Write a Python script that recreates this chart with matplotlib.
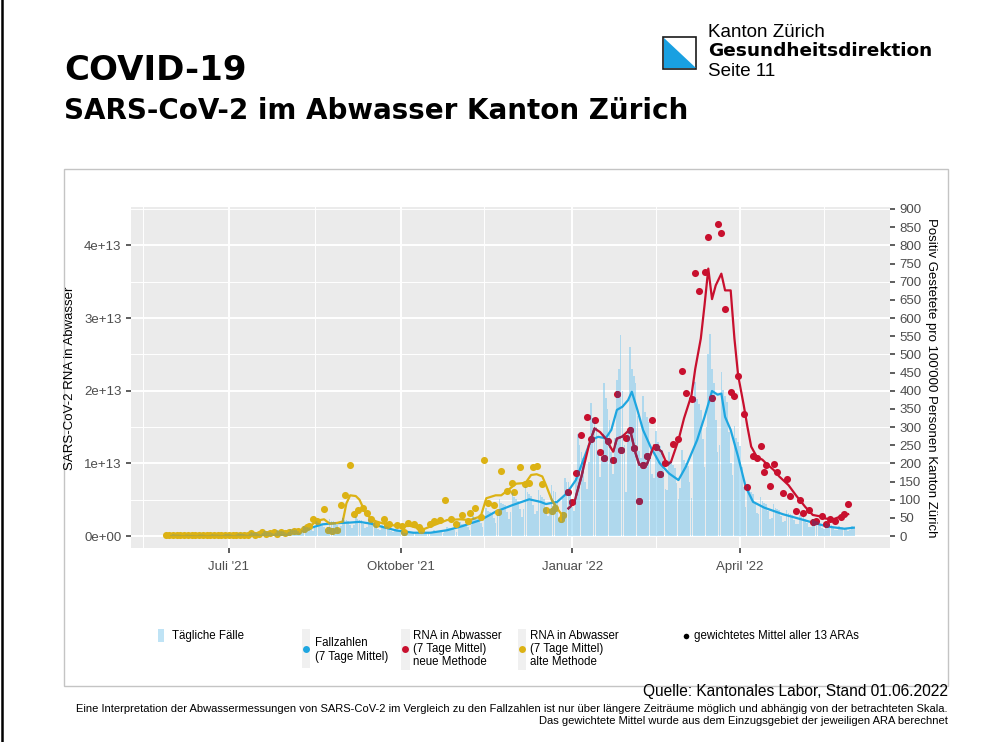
import numpy as np
import pandas as pd
import matplotlib
matplotlib.use("Agg")
import matplotlib.pyplot as plt
from matplotlib.patches import Rectangle, Polygon
from matplotlib.lines import Line2D
from matplotlib.path import Path

plt.rcParams["font.family"] = ["Liberation Sans", "DejaVu Sans"]

# ---------------------------------------------------------------- data
# x positions are days since 1 July 2021
ORIGIN = np.datetime64("2021-07-01")
RNA_PER_CASE = 1e13 / 200          # left axis 1e+13  <->  right axis 200

# daily cases per 100'000, one row per week starting Monday 31.05.2021
BAR_START = "2021-05-31"
daily_cases = [
    3, 5, 4, 4, 4, 3, 2,
    2, 4, 4, 3, 3, 3, 2,
    2, 4, 4, 4, 3, 2, 2,
    3, 5, 4, 4, 4, 3, 2,
    3, 5, 5, 5, 4, 3, 2,
    4, 7, 6, 6, 5, 4, 3,
    6, 10, 9, 9, 8, 6, 4,
    8, 14, 12, 11, 11, 8, 6,
    9, 16, 14, 14, 13, 10, 7,
    11, 20, 18, 17, 17, 13, 9,
    16, 28, 25, 24, 23, 18, 13,
    22, 40, 36, 35, 33, 26, 18,
    26, 47, 42, 40, 39, 30, 21,
    28, 50, 44, 43, 41, 31, 22,
    29, 53, 47, 45, 43, 33, 23,
    25, 45, 40, 38, 36, 28, 20,
    17, 31, 28, 26, 25, 20, 14,
    11, 20, 18, 17, 17, 13, 9,
    8, 14, 12, 12, 11, 8, 6,
    7, 12, 11, 10, 10, 8, 5,
    9, 16, 14, 14, 13, 10, 7,
    14, 26, 23, 22, 21, 16, 11,
    21, 38, 34, 32, 31, 24, 17,
    31, 55, 49, 47, 45, 35, 25,
    44, 78, 70, 67, 64, 49, 35,
    57, 103, 91, 87, 84, 65, 46,
    66, 119, 106, 101, 97, 75, 53,
    75, 135, 120, 115, 110, 85, 60,
    70, 126, 112, 107, 102, 79, 56,
    75, 140, 125, 120, 95, 50, 40,
    110, 160, 150, 150, 120, 80, 70,
    160, 280, 250, 230, 215, 150, 130,
    204, 367, 326, 313, 299, 231, 163,
    220, 420, 380, 350, 320, 230, 170,
    270, 430, 460, 553, 400, 250, 122,
    290, 520, 460, 440, 420, 330, 235,
    214, 385, 342, 328, 314, 242, 171,
    161, 290, 258, 247, 237, 183, 129,
    128, 230, 204, 196, 187, 145, 102,
    131, 236, 210, 201, 193, 149, 105,
    236, 425, 378, 362, 347, 268, 189,
    300, 500, 555, 460, 420, 320, 231,
    251, 452, 402, 385, 369, 285, 201,
    169, 304, 270, 259, 248, 191, 135,
    79, 142, 126, 121, 116, 89, 63,
    60, 108, 96, 92, 88, 68, 48,
    49, 88, 78, 75, 72, 55, 39,
    40, 72, 64, 61, 58, 45, 32,
    33, 59, 53, 51, 48, 37, 26,
    26, 47, 42, 40, 39, 30, 21,
    20, 36, 32, 31, 30, 23, 16,
    16, 28, 25, 24, 23, 18, 13,
    16, 28, 25,
]

# Fallzahlen, 7 Tage Mittel (per 100'000)
cases_avg_day = [-34, -16, 0, 11, 18, 29, 38, 45, 50, 56, 65, 70, 76, 83, 90,
                 99, 108, 117, 125, 135, 143, 152, 161, 167, 170, 176, 181,
                 186, 190, 194, 198, 202, 205, 208, 211, 214, 216, 219, 222,
                 226, 231, 236, 241, 245, 251, 255, 259, 262, 264, 266, 269,
                 273, 277, 281, 287, 297, 304, 313, 321, 330, 335]
cases_avg = [4, 3, 4, 6, 9, 12, 16, 24, 32, 35, 37, 39, 34, 24, 15,
             9, 9, 16, 27, 44, 67, 85, 101, 94, 88, 94, 117,
             154, 209, 264, 273, 269, 292, 347, 356, 374, 397, 347, 292,
             246, 200, 172, 154, 191, 264, 328, 399, 389, 392, 328, 292,
             218, 136, 94, 78, 60, 50, 37, 26, 20, 23]

# RNA in Abwasser, alte Methode (units of 1e13)
old_pts_day = [-34, -32, -30, -28, -26, -24, -22, -20, -18, -16, -14, -12,
               -10, -8, -6, -4, -2, 0, 2, 4, 6, 8, 10, 12, 14, 16, 18, 20,
               22, 24, 26, 28, 30, 32, 35, 37, 40, 42, 43, 45, 47, 51, 53,
               55, 58, 60, 62, 65, 67, 69, 72, 74, 76, 79, 83, 85, 86, 90,
               93, 94, 96, 99, 102, 103, 108, 110, 113, 116, 119, 122, 125,
               128, 129, 132, 135, 137, 139, 142, 144, 146, 149, 152, 153,
               156, 159, 161, 163, 165, 168, 170, 173, 175, 178, 179]
old_pts = [.02, .01, .02, .01, .02, .01, .02, .01, .02, .01, .01, .02,
           .01, .01, .02, .01, .01, .02, .01, .02, .02, .01, .02, .04, .02,
           .03, .05, .03, .04, .06, .03, .05, .04, .06, .07, .07, .09, .12,
           .14, .24, .20, .37, .08, .07, .08, .43, .56, .98, .30, .36, .38,
           .31, .24, .17, .23, .15, .17, .15, .14, .05, .18, .17, .13, .08,
           .17, .20, .22, .49, .23, .17, .29, .20, .31, .38, .26, 1.05, .45,
           .43, .33, .89, .62, .73, .60, .95, .72, .73, .95, .96, .72, .36,
           .35, .38, .23, .29]
old_avg_day = [-34, 0, 20, 30, 38, 43, 47, 51, 54, 58, 61, 63, 65, 68, 70,
               73, 76, 79, 83, 92, 97, 104, 110, 117, 124, 129, 135, 138,
               143, 146, 150, 154, 159, 162, 165, 168, 170, 173, 176, 178,
               180]
old_avg = [.02, .02, .03, .05, .07, .12, .21, .23, .17, .18, .20, .45, .56,
           .55, .50, .33, .24, .20, .17, .13, .14, .09, .15, .22, .23, .22,
           .27, .52, .56, .56, .64, .72, .73, .84, .85, .82, .70, .50, .38,
           .31, .29]

# RNA in Abwasser, neue Methode (units of 1e13)
new_pts_day = [182, 184, 186, 189, 192, 194, 196, 199, 201, 203, 206, 208,
               210, 213, 215, 217, 220, 222, 224, 227, 229, 231, 234, 238,
               241, 243, 245, 248, 250, 252, 255, 257, 259, 262, 264, 266,
               269, 271, 273, 276, 278, 281, 283, 285, 287, 288, 290, 292,
               294, 297, 299, 301, 304, 306, 308, 311, 313, 315, 318, 320,
               322, 325, 328, 330, 332]
new_pts = [.61, .47, .87, 1.39, 1.64, 1.33, 1.59, 1.16, 1.08, 1.31, 1.05,
           1.96, 1.18, 1.35, 1.46, 1.21, .48, .98, 1.10, 1.59, 1.23, .86,
           1.01, 1.27, 1.34, 2.27, 1.97, 1.89, 3.62, 3.37, 3.63, 4.11, 1.90,
           4.30, 4.17, 3.13, 1.98, 1.93, 2.20, 1.68, .68, 1.10, 1.08, 1.24,
           .88, .98, .69, .99, .88, .59, .78, .55, .34, .50, .31, .36, .19,
           .21, .28, .16, .24, .21, .26, .30, .44]
new_avg_day = [182, 185, 189, 193, 196, 199, 202, 206, 208, 211, 215, 218,
               220, 224, 228, 232, 235, 237, 241, 244, 248, 250, 253, 255,
               257, 259, 261, 264, 266, 269, 271, 273, 276, 278, 280, 283,
               286, 288, 292, 295, 300, 304, 309, 313, 317, 320, 324, 328,
               332]
new_avg = [.38, .45, .82, 1.25, 1.48, 1.43, 1.34, 1.16, 1.34, 1.37, 1.47,
           1.14, .98, .98, 1.25, 1.16, .98, 1.02, 1.32, 1.62, 1.94, 2.30,
           2.72, 3.18, 3.68, 3.26, 3.45, 3.61, 3.38, 3.38, 2.72, 2.21, 1.80,
           1.50, 1.23, 1.09, 1.05, 1.00, .91, .82, .70, .56, .40, .29, .27,
           .24, .23, .27, .30]

month_ticks = ["2021-07-01", "2021-10-01", "2022-01-01", "2022-04-01"]
month_labels = ["Juli '21", "Oktober '21", "Januar '22", "April '22"]
month_minor = ["2021-05-16", "2021-08-16", "2021-11-15", "2022-02-15", "2022-05-16"]
rna_ticks = [0, 1e13, 2e13, 3e13, 4e13]
rna_labels = ["0e+00", "1e+13", "2e+13", "3e+13", "4e+13"]
rna_minor = [0.5e13, 1.5e13, 2.5e13, 3.5e13, 4.5e13]
cases_ticks = list(range(0, 901, 50))

# ---------------------------------------------------------------- style
W, H = 989, 742
BLUE = "#1ea6e0"
RED = "#c8102e"
GOLD = "#dcb214"
RED_UNDER = "#8f2552"    # red seen through the case bars
GOLD_UNDER = "#a9a54a"   # gold seen through the case bars
TICK = "#4d4d4d"


def day(d):
    return ORIGIN + np.array(d, dtype="timedelta64[D]")


def fx(x):
    return x / W


def fy(y):
    return 1 - y / H


fig = plt.figure(figsize=(W / 100, H / 100), dpi=100)

# cases axis (right scale) holds bars and blue line, RNA axis on top
ax = fig.add_axes([fx(131), fy(548), (890 - 131) / W, (548 - 207) / H])
ax.set_facecolor("#ebebeb")
ax_rna = ax.twinx()

bar_dates = pd.date_range(BAR_START, periods=len(daily_cases), freq="D")
bars = ax.bar(bar_dates, daily_cases, width=0.9, color="#74c6f0", alpha=0.5,
              linewidth=0, zorder=2)
ax.plot(day(cases_avg_day), cases_avg, color=BLUE, lw=1.6, zorder=3)

c_lo, c_hi = -33, 905.5
ax.set_ylim(c_lo, c_hi)
ax_rna.set_ylim(c_lo * RNA_PER_CASE, c_hi * RNA_PER_CASE)
ax.set_xlim(np.datetime64("2021-05-09T12:00"), np.datetime64("2022-06-20T10:00"))

# grid (left scale lines, month lines)
for t in rna_ticks:
    ax.axhline(t / RNA_PER_CASE, color="white", lw=1.4, zorder=0.6)
for t in rna_minor:
    ax.axhline(t / RNA_PER_CASE, color="white", lw=0.7, zorder=0.5)
ax.set_xticks(pd.to_datetime(month_ticks), month_labels)
ax.set_xticks(pd.to_datetime(month_minor), minor=True)
ax.grid(axis="x", which="major", color="white", lw=1.4)
ax.grid(axis="x", which="minor", color="white", lw=0.7)
ax.set_axisbelow(True)

# RNA series
old_x, new_x = day(old_pts_day), day(new_pts_day)
ax_rna.plot(day(old_avg_day), np.array(old_avg) * 1e13, color=GOLD, lw=1.6)
ax_rna.scatter(old_x, np.array(old_pts) * 1e13, s=26, color=GOLD, linewidths=0)
ax_rna.plot(day(new_avg_day), np.array(new_avg) * 1e13, color=RED, lw=1.6)
ax_rna.scatter(new_x, np.array(new_pts) * 1e13, s=26, color=RED, linewidths=0)

# where marks lie under the bars they look darker in the original
bar_path = Path.make_compound_path(
    *[p.get_patch_transform().transform_path(p.get_path()) for p in bars.patches])
under = [
    ax_rna.plot(day(old_avg_day), np.array(old_avg) * 1e13, color=GOLD_UNDER, lw=1.6)[0],
    ax_rna.scatter(old_x, np.array(old_pts) * 1e13, s=26, color=GOLD_UNDER, linewidths=0),
    ax_rna.plot(day(new_avg_day), np.array(new_avg) * 1e13, color=RED_UNDER, lw=1.6)[0],
    ax_rna.scatter(new_x, np.array(new_pts) * 1e13, s=26, color=RED_UNDER, linewidths=0),
]
for a in under:
    a.set_clip_path(bar_path, ax.transData)

# axes cosmetics
ax.yaxis.tick_right()
ax_rna.yaxis.tick_left()
ax.set_yticks(cases_ticks)
ax_rna.set_yticks(rna_ticks, rna_labels)
for a in (ax, ax_rna):
    for s in a.spines.values():
        s.set_visible(False)
    a.tick_params(axis="both", which="major", length=3.8, width=1.1, color="#333333",
                  labelsize=9.5, labelcolor=TICK, pad=3)
ax.tick_params(axis="x", which="minor", length=0)
ax.tick_params(axis="x", pad=5.5)

fig.text(fx(70), fy(378), "SARS-CoV-2 RNA in Abwasser", rotation=90,
         ha="center", va="center", fontsize=9.5)
fig.text(fx(931), fy(378), "Positiv Gestetete pro 100'000 Personen Kanton Zürich",
         rotation=-90, ha="center", va="center", fontsize=9.5)

# ---------------------------------------------------------------- page
fig.add_artist(Line2D([fx(1.5)] * 2, [0, 1], color="black", lw=1.8,
                      transform=fig.transFigure))
fig.add_artist(Rectangle((fx(64), fy(686)), (948 - 64) / W, (686 - 169) / H, fill=False,
                         edgecolor="#c4c4c4", lw=1.0, transform=fig.transFigure))

fig.text(fx(64), fy(80), "COVID-19", fontsize=24.5, fontweight="bold",
         family="DejaVu Sans", va="baseline")
fig.text(fx(64), fy(119), "SARS-CoV-2 im Abwasser Kanton Zürich", fontsize=20,
         fontweight="bold", family="DejaVu Sans", va="baseline")

fig.add_artist(Rectangle((fx(663), fy(68.5)), 33 / W, 31.5 / H, facecolor="white",
                         edgecolor="#1a1a1a", lw=1.2, transform=fig.transFigure))
fig.add_artist(Polygon([(fx(663.5), fy(37.5)), (fx(663.5), fy(68)), (fx(695.5), fy(68))],
                       closed=True, facecolor="#19a0e1", edgecolor="none",
                       transform=fig.transFigure))
fig.text(fx(708), fy(37), "Kanton Zürich", fontsize=13.5, va="baseline")
fig.text(fx(708), fy(55.5), "Gesundheitsdirektion", fontsize=13.3, fontweight="bold",
         family="DejaVu Sans", va="baseline")
fig.text(fx(708), fy(76), "Seite 11", fontsize=13.5, va="baseline")

# ---------------------------------------------------------------- legend
LEG = 8.3


def key_bg(x0, x1, y0, y1, color):
    fig.add_artist(Rectangle((fx(x0), fy(y1)), (x1 - x0) / W, (y1 - y0) / H,
                             facecolor=color, edgecolor="none", transform=fig.transFigure))


def key_dot(x, y, color, ms=5):
    fig.add_artist(Line2D([fx(x)], [fy(y)], marker="o", ms=ms, color=color,
                          markeredgewidth=0, transform=fig.transFigure))


key_bg(158, 163.5, 629, 642, "#bfe3f5")
fig.text(fx(172), fy(636), "Tägliche Fälle", fontsize=LEG, va="center")

key_bg(301.5, 310, 629, 668, "#f0f0f0")
key_dot(305.8, 648.5, BLUE)
fig.text(fx(315), fy(650), "Fallzahlen\n(7 Tage Mittel)", fontsize=LEG,
         va="center", linespacing=1.15)

key_bg(401, 409.5, 629, 670, "#f0f0f0")
key_dot(405.3, 648.5, RED)
fig.text(fx(413), fy(649), "RNA in Abwasser\n(7 Tage Mittel)\nneue Methode",
         fontsize=LEG, va="center", linespacing=1.15)

key_bg(517.5, 526, 629, 670, "#f0f0f0")
key_dot(521.8, 648.5, GOLD)
fig.text(fx(530), fy(649), "RNA in Abwasser\n(7 Tage Mittel)\nalte Methode",
         fontsize=LEG, va="center", linespacing=1.15)

key_dot(686, 636, "black", ms=4)
fig.text(fx(694), fy(636), "gewichtetes Mittel aller 13 ARAs", fontsize=LEG, va="center")

# ---------------------------------------------------------------- footer
fig.text(fx(948), fy(696), "Quelle: Kantonales Labor, Stand 01.06.2022",
         fontsize=11.2, ha="right", va="baseline")
fig.text(fx(948), fy(712),
         "Eine Interpretation der Abwassermessungen von SARS-CoV-2 im Vergleich zu den "
         "Fallzahlen ist nur über längere Zeiträume möglich und abhängig von der "
         "betrachteten Skala.", fontsize=8.0, ha="right", va="baseline")
fig.text(fx(948), fy(723.5),
         "Das gewichtete Mittel wurde aus dem Einzugsgebiet der jeweiligen ARA berechnet",
         fontsize=8.0, ha="right", va="baseline")

fig.savefig("out.png", dpi=100)
